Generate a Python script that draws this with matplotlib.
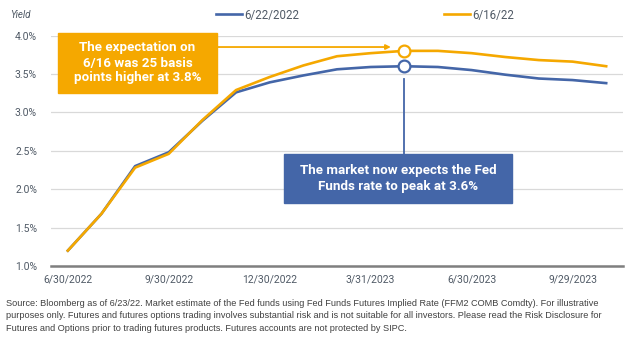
import matplotlib.pyplot as plt
from matplotlib import font_manager
from matplotlib.patches import Rectangle
from matplotlib.lines import Line2D

# Fed funds futures implied rate, month-end points
dates = ['6/30/2022', '7/29/2022', '8/31/2022', '9/30/2022', '10/31/2022',
         '11/30/2022', '12/30/2022', '1/31/2023', '2/28/2023', '3/31/2023',
         '4/28/2023', '5/31/2023', '6/30/2023', '7/31/2023', '8/31/2023',
         '9/29/2023', '10/31/2023']
curve_0622 = [1.20, 1.68, 2.30, 2.48, 2.89, 3.26, 3.39, 3.48, 3.56, 3.59,
              3.60, 3.59, 3.55, 3.49, 3.44, 3.42, 3.38]
curve_0616 = [1.20, 1.68, 2.28, 2.46, 2.90, 3.29, 3.46, 3.61, 3.73, 3.77,
              3.80, 3.80, 3.77, 3.72, 3.68, 3.66, 3.60]
yticks = [1.0, 1.5, 2.0, 2.5, 3.0, 3.5, 4.0]
peak_idx = 10

BLUE = '#4466a8'
ORANGE = '#f5a800'
TXT = '#505a66'

plt.rcParams['font.family'] = ['Roboto', 'DejaVu Sans']

# condensed face for the footnote if there is one
try:
    font_manager.findfont('Liberation Sans Narrow', fallback_to_default=False)
    note_font, note_size = 'Liberation Sans Narrow', 7.4
except ValueError:
    note_font, note_size = 'Liberation Sans', 6.6

fig = plt.figure(figsize=(6.29, 3.42), dpi=100)
W, H = 629, 342
ax = fig.add_axes([51 / W, 1 - 266 / H, 572 / W, 230.5 / H])

x = list(range(len(dates)))
ax.plot(x, curve_0622, color=BLUE, lw=1.9, solid_joinstyle='round', zorder=3)
ax.plot(x, curve_0616, color=ORANGE, lw=1.9, solid_joinstyle='round', zorder=4)

# peak markers
ax.plot(peak_idx, curve_0622[peak_idx], 'o', ms=8.5, mfc='white', mec=BLUE, mew=1.6, zorder=5)
ax.plot(peak_idx, curve_0616[peak_idx], 'o', ms=8.5, mfc='white', mec=ORANGE, mew=1.6, zorder=5)

ax.set_xlim(-0.5, len(dates) - 0.5)
ax.set_ylim(1.0, 4.0)
ax.set_yticks(yticks)
ax.set_yticklabels([f'{v:.1f}%' for v in yticks])
ax.set_xticks(x[::3])
ax.set_xticklabels(dates[::3])
ax.tick_params(length=0, labelsize=7.5, labelcolor=TXT)
ax.tick_params(axis='y', pad=10)
ax.tick_params(axis='x', pad=6)
ax.grid(axis='y', color='#d9d9d9', lw=0.9)
ax.set_axisbelow(True)
for s in ['top', 'right', 'left']:
    ax.spines[s].set_visible(False)
ax.spines['bottom'].set_color('#7f7f7f')
ax.spines['bottom'].set_linewidth(1.8)

# connector from the blue peak down to its callout
ax.plot([peak_idx, peak_idx], [3.43, 2.45], color=BLUE, lw=1.3, zorder=3)

# arrow from orange callout to the orange peak
ax.annotate('', xy=(9.6, 3.85), xytext=(4.43, 3.85),
            arrowprops=dict(arrowstyle='-|>', color=ORANGE, lw=1.3,
                            mutation_scale=7, shrinkA=0, shrinkB=0))

# callout boxes
fig.patches.append(Rectangle((58 / W, 1 - 93 / H), 159 / W, 60 / H,
                             transform=fig.transFigure, color=ORANGE, zorder=5))
fig.text(137.5 / W, 1 - 63 / H,
         'The expectation on\n6/16 was 25 basis\npoints higher at 3.8%',
         ha='center', va='center', color='white', fontsize=9.6, weight='bold',
         linespacing=1.2, zorder=6)
fig.patches.append(Rectangle((284 / W, 1 - 203 / H), 228 / W, 49 / H,
                             transform=fig.transFigure, color=BLUE, zorder=5))
fig.text(398 / W, 1 - 178.5 / H,
         'The market now expects the Fed\nFunds rate to peak at 3.6%',
         ha='center', va='center', color='white', fontsize=9.6, weight='bold',
         linespacing=1.25, zorder=6)

fig.text(10 / W, 1 - 15 / H, 'Yield', fontsize=7, style='italic', color=TXT, va='center')

handles = [Line2D([], [], color=BLUE, lw=1.9), Line2D([], [], color=ORANGE, lw=1.9)]
fig.legend(handles, ['6/22/2022', '6/16/22'], loc='center', ncol=2,
           bbox_to_anchor=(365 / W, 1 - 15 / H), frameon=False, fontsize=8.3,
           handlelength=2.3, handletextpad=0.2, columnspacing=12.5,
           labelcolor=TXT)

note = ('Source: Bloomberg as of 6/23/22. Market estimate of the Fed funds using Fed Funds Futures '
        'Implied Rate (FFM2 COMB Comdty). For illustrative\n'
        'purposes only. Futures and futures options trading involves substantial risk and is not '
        'suitable for all investors. Please read the Risk Disclosure for\n'
        'Futures and Options prior to trading futures products. Futures accounts are not protected by SIPC.')
fig.text(6 / W, 1 - 299 / H, note, fontsize=note_size, color='#404040', va='top',
         linespacing=1.5, family=[note_font, 'DejaVu Sans'])

fig.savefig('out.png', dpi=100)
